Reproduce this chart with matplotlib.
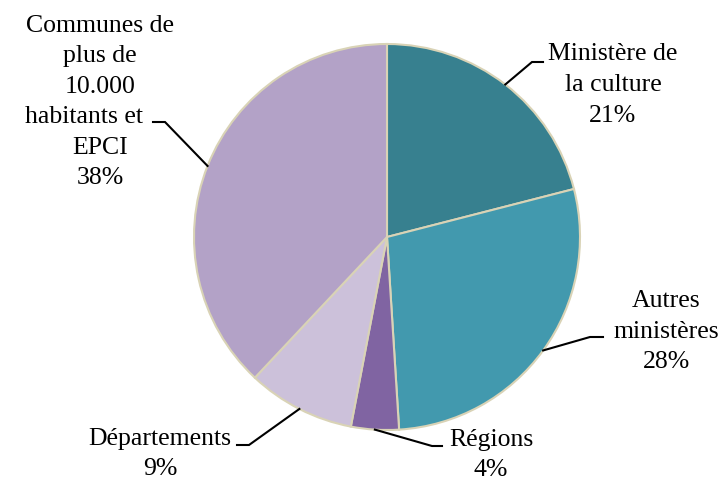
import matplotlib.pyplot as plt
import numpy as np

plt.rcParams['font.family'] = ['Liberation Serif', 'DejaVu Serif']

labels = ["Ministère de\nla culture", "Autres\nministères", "Régions",
          "Départements", "Communes de\nplus de\n10.000\nhabitants et     \nEPCI"]
shares = [21, 28, 4, 9, 38]
colors = ["#37808F", "#4299AE", "#8064A2", "#CCC1DA", "#B3A2C7"]

# label layout in pixel coords (x, y from top), elbow point, end of horizontal tick
text_pos = [(613, 85), (666, 332), (491, 455), (160, 454), (100, 102)]
elbows = [(532, 63), (590, 338), (432, 447), (249, 446), (165, 123)]
tick_end = [(543, 63), (603, 338), (442, 447), (237, 446), (153, 123)]

W, H = 720, 481
cx, cy, r = 387, 238, 193

fig = plt.figure(figsize=(7.2, 4.81), dpi=100)
ax = fig.add_axes([0, 0, 1, 1])

# y axis is flipped, so counterclockwise here shows clockwise on screen
ax.pie(shares, colors=colors, startangle=-90, counterclock=True,
       center=(cx, cy), radius=r, frame=True,
       wedgeprops=dict(edgecolor="#D9D3B6", linewidth=1.5))
ax.set_xlim(0, W)
ax.set_ylim(H, 0)
ax.set_aspect('equal')
ax.axis('off')

total = sum(shares)
start = 90.0
for i, (lab, s) in enumerate(zip(labels, shares)):
    mid = start - s / total * 360 / 2
    start -= s / total * 360
    px = cx + r * np.cos(np.radians(mid))
    py = cy - r * np.sin(np.radians(mid))
    ex, ey = elbows[i]
    tx, ty = tick_end[i]
    ax.plot([px, ex, tx], [py, ey, ty], color="black", lw=1.5,
            solid_joinstyle='miter')
    ax.text(text_pos[i][0], text_pos[i][1], f"{lab}\n{s}%", ha='center',
            va='center', fontsize=18.5, linespacing=1.5)

fig.savefig("out.png", dpi=100)
